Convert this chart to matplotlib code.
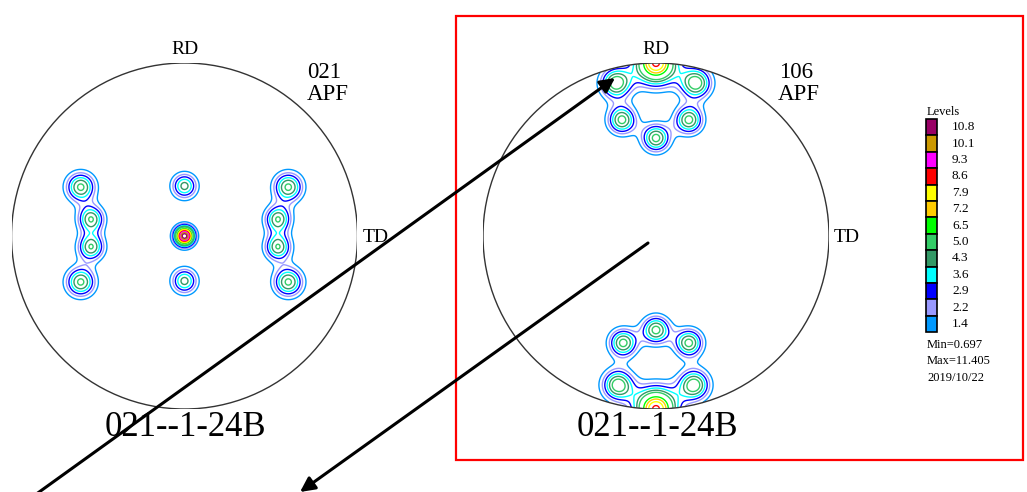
import numpy as np
import matplotlib
matplotlib.use("Agg")
import matplotlib.pyplot as plt
from matplotlib.patches import Circle, Rectangle

plt.rcParams['font.family'] = ['Liberation Serif', 'DejaVu Serif']

# contour levels and their colours (from the legend)
levels = [1.4, 2.2, 2.9, 3.6, 4.3, 5.0, 6.5, 7.2, 7.9, 8.6, 9.3, 10.1, 10.8]
level_colors = ['#0099ff', '#9999ff', '#0000ff', '#00ffff', '#339966', '#33cc66',
                '#00ff00', '#ffcc00', '#ffff00', '#ff0000', '#ff00ff', '#cc9900', '#990066']

# left pole figure: {021} poles (projected x, y), peak intensity, spread
left_x = [-0.60, -0.54, -0.54, -0.60, 0.0, 0.0, 0.0, 0.60, 0.54, 0.54, 0.60]
left_y = [0.283, 0.098, -0.064, -0.266, 0.289, 0.0, -0.26, 0.283, 0.098, -0.064, -0.266]
left_peak = [5.2, 5.0, 5.0, 5.2, 4.6, 11.4, 4.6, 5.2, 5.0, 5.0, 5.2]
left_width = [0.063, 0.057, 0.057, 0.063, 0.055, 0.040, 0.055, 0.063, 0.057, 0.057, 0.063]

# right pole figure: {106} poles
right_x = [0.0, -0.231, 0.231, -0.197, 0.19, 0.0,
           0.0, -0.19, 0.19, -0.22, 0.22, 0.0]
right_y = [1.0, 0.884, 0.884, 0.671, 0.671, 0.566,
           -0.543, -0.618, -0.618, -0.861, -0.861, -1.0]
right_peak = [8.8, 5.6, 5.6, 5.3, 5.3, 5.3,
              5.3, 5.3, 5.3, 5.6, 5.6, 8.8]
right_width = [0.09, 0.066, 0.066, 0.06, 0.06, 0.06,
               0.06, 0.06, 0.06, 0.066, 0.066, 0.09]

left_title, right_title = "021--1-24B", "021--1-24B"
left_plane, right_plane = "021", "106"
stats = ["Min=0.697", "Max=11.405", "2019/10/22"]

W, H = 1027, 492
fig = plt.figure(figsize=(W / 100, H / 100), dpi=100)

g = np.linspace(-1.05, 1.05, 800)
X, Y = np.meshgrid(g, g)


def pole_figure(cx, px, py, peak, width):
    r = 173
    ax = fig.add_axes([(cx - r) / W, (H - (236 + r)) / H, 2 * r / W, 2 * r / H])
    Z = np.zeros_like(X)
    for x0, y0, a, s in zip(px, py, peak, width):
        Z += a * np.exp(-((X - x0) ** 2 + (Y - y0) ** 2) / (2 * s ** 2))
    Z[X ** 2 + Y ** 2 > 1.0] = np.nan
    outline = ax.add_patch(Circle((0, 0), 1.0, fill=False, ec='#333333', lw=1.0, zorder=3))
    cs = ax.contour(X, Y, Z, levels=levels, colors=level_colors, linewidths=1.0)
    cs.set_clip_path(outline)
    ax.set_xlim(-1, 1)
    ax.set_ylim(-1, 1)
    ax.axis('off')


pole_figure(184.5, left_x, left_y, left_peak, left_width)
pole_figure(656, right_x, right_y, right_peak, right_width)

# overlay in pixel coordinates for labels, legend and annotations
ov = fig.add_axes([0, 0, 1, 1])
ov.set_xlim(0, W)
ov.set_ylim(H, 0)
ov.axis('off')
ov.patch.set_alpha(0)

for cx, plane, title in [(184.5, left_plane, left_title), (656, right_plane, right_title)]:
    ov.text(cx, 50, "RD", ha='center', va='center', fontsize=14)
    ov.text(cx + 191, 237, "TD", ha='center', va='center', fontsize=14)
    ov.text(cx + 123, 73, plane, ha='left', va='center', fontsize=16.5)
    ov.text(cx + 122, 95, "APF", ha='left', va='center', fontsize=16.5)
    ov.text(cx + 1, 427, title, ha='center', va='center', fontsize=25)

# legend
ov.text(927, 112, "Levels", ha='left', va='center', fontsize=9)
box_h = 16.4
for i, (lv, c) in enumerate(zip(levels[::-1], level_colors[::-1])):
    y0 = 119 + i * box_h
    ov.add_patch(Rectangle((926, y0), 11, box_h, fc=c, ec='black', lw=1.2))
    ov.text(952, y0 + box_h / 2, f"{lv:.1f}", ha='left', va='center', fontsize=9.5)
for i, s in enumerate(stats):
    ov.text(927, 345 + i * 16.5, s, ha='left', va='center', fontsize=9)

# red frame
ov.add_patch(Rectangle((456, 16), 567, 444, fill=False, ec='#ff0000', lw=1.6))

# arrows
ov.annotate("", xy=(615, 78), xytext=(35, 495),
            arrowprops=dict(arrowstyle='-|>', color='black', lw=2.2, mutation_scale=22,
                            shrinkA=0, shrinkB=0))
ov.annotate("", xy=(300, 492), xytext=(648, 243),
            arrowprops=dict(arrowstyle='-|>', color='black', lw=2.2, mutation_scale=22,
                            shrinkA=0, shrinkB=0))

fig.savefig("out.png", dpi=100)
